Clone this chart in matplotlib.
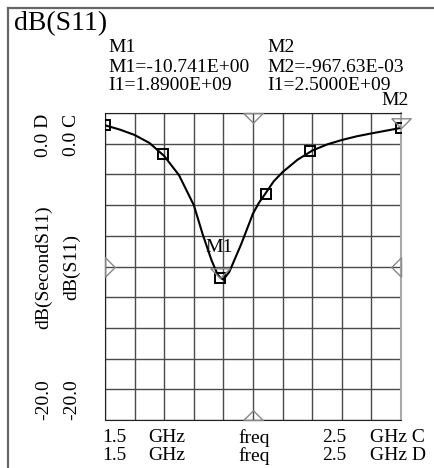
import numpy as np
import matplotlib.pyplot as plt
from matplotlib.path import Path
from matplotlib.lines import Line2D

# Trace (GHz, dB)
freq = [1.50, 1.55, 1.60, 1.65, 1.70, 1.75, 1.80, 1.83, 1.86, 1.88, 1.89,
        1.90, 1.92, 1.94, 1.96, 1.98, 2.00, 2.02, 2.04, 2.07, 2.10, 2.15,
        2.20, 2.25, 2.30, 2.35, 2.40, 2.45, 2.50]
s11_db = [-0.80, -1.08, -1.43, -1.95, -2.80, -4.05, -6.00, -7.90, -9.60,
          -10.50, -10.74, -10.85, -10.35, -9.45, -8.55, -7.55, -6.55, -5.85,
          -5.30, -4.45, -3.85, -3.05, -2.45, -2.05, -1.76, -1.52, -1.33,
          -1.15, -0.97]

# square markers on the trace
marker_freq = [1.50, 1.695, 1.89, 2.043, 2.193, 2.50]
marker_db = [-0.80, -2.69, -10.741, -5.30, -2.48, -0.968]

# marker readouts
m1_freq, m1_db = 1.89, -10.741
m2_freq, m2_db = 2.50, -0.968
m1_text = ['M1', 'M1=-10.741E+00', 'I1=1.8900E+09']
m2_text = ['M2', 'M2=-967.63E-03', 'I1=2.5000E+09']

x_min, x_max = 1.5, 2.5
y_min, y_max = -20.0, 0.0

W, H = 434, 468
FONT = 'Liberation Serif'
plt.rcParams['font.family'] = [FONT, 'DejaVu Serif']


def fx(px):
    return px / W


def fy(py):
    return 1 - py / H


fig = plt.figure(figsize=(W / 100, H / 100), dpi=100)

# outer frame (left and top edges only)
fig.add_artist(Line2D([fx(8), fx(8)], [fy(8), 0], color='#666666', lw=1.6))
fig.add_artist(Line2D([fx(8), 1], [fy(8), fy(8)], color='#666666', lw=1.6))

ax = fig.add_axes([fx(105), fy(420), 296 / W, 307 / H])
ax.set_xlim(x_min, x_max)
ax.set_ylim(y_min, y_max)
ax.set_xticks(np.linspace(x_min, x_max, 11))
ax.set_yticks(np.linspace(y_min, y_max, 11))
ax.grid(True, color='#4a4a4a', lw=1.0)
ax.tick_params(length=0, labelbottom=False, labelleft=False)
for side in ['left', 'top', 'bottom']:
    ax.spines[side].set_color('#222222')
ax.spines['right'].set_color('#aaaaaa')
ax.spines['right'].set_linewidth(1.5)

ax.plot(freq, s11_db, color='black', lw=1.5, zorder=3)
ax.plot(marker_freq, marker_db, ls='none', marker='s', ms=7, mfc='none',
        mec='black', mew=1.4, zorder=4)

# open triangles: tip at the origin of the marker
tri_down = Path([(-1, 1), (1, 1), (0, 0), (-1, 1)])
tri_top = Path([(-1, 0), (1, 0), (0, -1), (-1, 0)])
tri_bottom = Path([(-1, 0), (1, 0), (0, 1), (-1, 0)])
tri_left = Path([(0, -1), (0, 1), (1, 0), (0, -1)])
tri_right = Path([(0, -1), (0, 1), (-1, 0), (0, -1)])
tri_style = dict(ls='none', mfc='none', mec='#888888', mew=1.0, ms=14,
                 clip_on=False, zorder=5)
x_mid = (x_min + x_max) / 2
y_mid = (y_min + y_max) / 2
ax.plot([x_mid], [y_max], marker=tri_top, **tri_style)
ax.plot([x_mid], [y_min], marker=tri_bottom, **tri_style)
ax.plot([x_min], [y_mid], marker=tri_left, **tri_style)
ax.plot([x_max], [y_mid], marker=tri_right, **tri_style)
ax.plot([m1_freq], [m1_db], marker=tri_down, **tri_style)
ax.plot([m2_freq], [m2_db], marker=tri_down, **tri_style)

ax.annotate('M1', (m1_freq, m1_db), xytext=(-1, 22), textcoords='offset points',
            ha='center', va='center', fontsize=14)
ax.annotate('M2', (m2_freq, m2_db), xytext=(-4, 20), textcoords='offset points',
            ha='center', va='center', fontsize=14)

# title and marker readouts
fig.text(fx(14), fy(24), 'dB(S11)', fontsize=20, ha='left', va='center')
for i, (a, b) in enumerate(zip(m1_text, m2_text)):
    yy = [48, 68, 85][i]
    fig.text(fx(108), fy(yy), a, fontsize=14, ha='left', va='center')
    fig.text(fx(267), fy(yy), b, fontsize=14, ha='left', va='center')

# y labels (two traces, C and D)
for xc, name, tag in [(44, 'dB(SecondS11)', 'D'), (72, 'dB(S11)', 'C')]:
    fig.text(fx(xc), fy(114), '%.1f %s' % (y_max, tag), rotation=90,
             fontsize=14, ha='center', va='top')
    fig.text(fx(xc), fy(267), name, rotation=90, fontsize=14,
             ha='center', va='center')
    fig.text(fx(xc), fy(420), '%.1f' % y_min, rotation=90, fontsize=14,
             ha='center', va='bottom')

# x labels
for yc, tag in [(438, 'C'), (456, 'D')]:
    fig.text(fx(102), fy(yc), '%.1f' % x_min, fontsize=14, ha='left', va='center')
    fig.text(fx(148), fy(yc), 'GHz', fontsize=14, ha='left', va='center')
    fig.text(fx(254), fy(yc), 'freq', fontsize=14, ha='center', va='center')
    fig.text(fx(322), fy(yc), '%.1f' % x_max, fontsize=14, ha='left', va='center')
    fig.text(fx(370), fy(yc), 'GHz ' + tag, fontsize=14, ha='left', va='center')

fig.savefig('out.png', dpi=100)
